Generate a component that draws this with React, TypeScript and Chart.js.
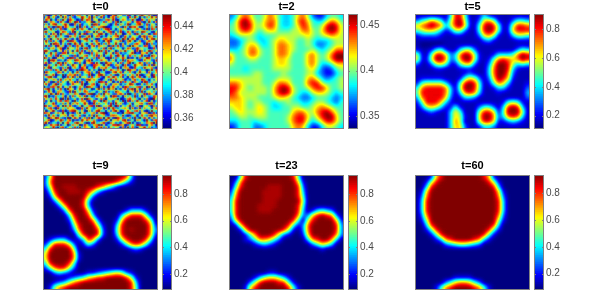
import React, { useEffect, useRef } from "react";
import { Chart, registerables } from "chart.js";

Chart.register(...registerables);

// Cell levels, top row first. 0 = bottom of the colour range, 9 = top.
// "." = level 0.5, "x" = level 8.6. Spaces are only for legibility.
const gridT0 = [
  "720158 394610 827735 061492 583017 946228 150379 648201",
  "159472 060837 214596 380725 914068 273551 829604 173958",
  "386041 729518 630294 871560 237849 105762 394018 527460",
  "904763 185207 498132 659047 382651 790436 615872 049318",
  "271589 436950 072814 360981 546203 817529 043796 281650",
  "648302 971864 350927 148356 790124 462083 978510 362749",
  "015927 382046 791685 403729 268915 037461 254863 190872",
  "793460 158732 906241 875093 614780 529138 607249 835106",
  "426185 093571 284069 132648 950372 846015 731952 460387",
  "850739 264108 573912 690487 031526 790284 165407 928613",
  "137064 825963 140758 926301 478695 213970 586032 714895",
  "592816 307419 862035 741582 306914 658027 940371 268540",
  "364098 715280 496173 058269 172853 940616 327854 091723",
  "708251 946037 128594 306817 645029 381742 096523 871460",
  "241673 580194 637208 915436 280791 564038 712965 340182",
  "895320 461726 059381 472650 938146 027593 461807 259736",
  "063947 218805 743962 108375 529460 871324 590216 683041",
  "516728 093462 180547 836291 704385 196052 837469 120975",
  "972401 657319 826094 253718 461092 735860 214073 598362",
  "340896 124075 398651 790423 856137 042918 675301 846219",
  "681253 970846 412730 568194 029673 518247 903586 172604",
  "107539 482613 965048 321876 405912 763081 249657 038195",
  "859064 317290 574186 043952 768341 290576 108432 965720",
  "423718 605941 230897 615240 193586 474029 856173 302948",
  "096342 871526 049315 782609 341027 958163 720495 618237",
  "714580 239067 681724 390158 962473 105826 374910 265083",
  "368921 540183 927056 418367 205849 637140 592683 047195",
  "205476 193758 340612 895741 036192 854703 168249 730526",
  "947103 826405 719283 064529 871650 319284 607531 982464",
  "581269 074312 865490 137802 549316 760425 983016 174830",
  "032784 951648 203751 986420 713058 426197 345782 609151",
  "679415 283096 514827 350169 284967 031582 790614 823507",
  "128503 764219 093648 724513 608132 975340 461829 056372",
  "453960 817325 476102 689037 195742 268619 037254 918640",
  "890217 346051 825739 041286 473509 814073 529160 742386",
  "264738 509192 361480 975314 820665 390127 846305 271094",
  "715042 683874 092576 214863 097341 652908 173942 680513",
  "036591 427160 758349 601927 536180 947213 605478 319826",
  "982367 150948 213605 478190 264793 081536 924710 563072",
  "147820 936375 640182 953246 718059 325674 081293 746158",
  "503694 218027 895361 072489 341627 960148 537826 102943",
  "876125 749403 127058 346715 890253 412067 893415 670281",
  "219483 065716 934820 517093 462178 753920 146058 328967",
  "640759 832190 586147 290368 705941 086235 719304 851624",
  "358016 497268 021395 864721 139506 674891 250763 094178",
  "791243 150684 379562 018934 682075 231468 904125 376809",
  "024867 913502 746018 523679 051348 897602 463981 215740",
  "465392 078146 281937 650482 927163 540719 382056 947132",
];
const gridT2 = [
  "236764 457643 346752 113443","358975 467743 347864 335764","458985 568743 346874 458985","457875 456644 455775 468985",
  "345554 344455 555565 456765","223454 334566 554454 333455","223566 434577 654454 223455","334577 544577 654445 434577",
  "644577 544577 644467 545799","744455 444566 544467 545799","544444 444566 544467 533466","444344 444555 544456 421245",
  "444445 544445 444455 321134","555555 544455 544467 532345","776555 544577 644478 854445","886545 554689 854457 886445",
  "875555 554689 854335 665434","776555 444566 543223 444323","666545 544344 544334 554324","566545 654334 455445 676544",
  "456555 654444 467755 789754","445545 554444 578864 689964","334443 444444 578853 468864","124442 234444 467631 135543",
];
const gridT5 = [
  ".......3884..131........","2457641 5895 1. 26751 .. 2443","6789873 5896 1. 48984 .1 5887","4566531 2552 .. 48984 .1 6888",
  "122221. .11. .. 26751 .. 3554","..............231....111",".00000..................","1.. 1341 .. 3552 ........ 243",
  "51. 4886 23 7985 1.. 1333 4798","611 5997 23 7995 1. 14787 6798","2.. 2564 11 4662 .. 26998 5343",".... 11 ... 111 ... 379983 1..",
  ".......... 121 .. 379972 ...",". 11111 ... 14652 . 269861 ...","14555531 . 48984 . 14763 ... 1","37888873 . 59984 .. 1331 ... 2",
  "48888873 . 37873 ... 1 ..... 3","27888862 . 1332 .......... 2","14888631 .......... 14541 .",".256531 141 ... 2442 . 38983 .",
  ".. 121 .. 364 ... 58861 49995 .","....... 3651 .. 69972 37873 .","....... 375. .. 58861 12321 .","....... 3662 .. 1332. ..... .",
];
const gridT9 = [
  "15 999999999999999 83 00000","17 9999999999999 863 1 00000","15 99 xxx 9999 87 531 00000000","038 99 xxx 9 8631 00000000000",
  "016 999999 62 0000000000000","0026 9999 83 00000000000000","00026 999 83 00000000000000","0000 27 999 61 000000 13331 00",
  "00000 38 99 83 00000 36888510","00000 16 999 72 000 16 9999 850","000000 48 999 51 00 38 99999 71","000000 27 999 82 00 48 9x999 72",
  "0000000 48 99 82 00 38 99999 71","0123310 13872 000 158 999 840","1488862 0 142 00000 14787410","38999950 0000000000 121 000",
  "59999971 0000000000000000","59999971 0000000000000000","38999840 0000000000000000","14788520 0000000000000000",
  "002321 000 11 2 3 4 5 6 5 2 1 00000","00000 1 2 3 4 6 7 8 8 9 9 9 9 8 5 1 0000","001235789 999999999 83 0000","01578 9999999999999 84 0000",
];
const gridT23 = [
  "0048 999999999 84 000000000","027 99999999999 61 00000000","048 99999 xxx 999 82 00000000","16 99999 xxxx 999 83 00000000",
  "27 99999 xxxx 999 84 00000000","38 99999 xxx 9999 95 00000000","38 9999 xxxx 9999 84 00000000","38 9999 xxx 99999 83 01343200",
  "28 999999999999 72 26898720","16 99999999999 840 58 9999 61","016 999999999 841 27 99999 82","0016 9999999 851 0 27 99999 82",
  "000147 999 8521 00 16 99999 72","000 12477642 00000 37899730","00000 12321 0000000 2465300","0000000000000000000 1 0000",
  "000000000000000000000000","000000000000000000000000","000000000000000000000000","000000000000000000000000",
  "00000000 11 00000000000000","00000 13566531 00000000000","0000 2589998841 0000000000","000 168 999999 841 000000000",
];
const gridT60 = [
  "0001689999 9999861000 0000","0015899999 9999985100 0000","0038999999 9999998300 0000","0169999999 9999999610 0000",
  "0279999999 9999999720 0000","0389999999 9999999830 0000","0389999999 9999999830 0000","0389999999 9999999830 0000",
  "0279999999 9999999720 0000","0159999999 9999999510 0000","0038999999 9999998300 0000","0014899999 9999984100 0000",
  "0001489999 9999841000 0000","0000137899 9987310000 0000","0000002345 5432000000 0000","000000000000000000000000",
  "000000000000000000000000","000000000000000000000000","000000000000000000000000","000000000000000000000000",
  "000000000000000000000000","0000000011 1100000000 0000","0000002467 7642000000 0000","0000147899 9987410000 0000",
];

const titles = ["t=0", "t=2", "t=5", "t=9", "t=23", "t=60"];
const grids = [gridT0, gridT2, gridT5, gridT9, gridT23, gridT60];
const colorRanges = [
  [0.3505, 0.4505],
  [0.336, 0.462],
  [0.106, 0.908],
  [0.079, 0.944],
  [0.078, 0.947],
  [0.077, 0.938],
];
const colorTicks = [
  [0.36, 0.38, 0.4, 0.42, 0.44],
  [0.35, 0.4, 0.45],
  [0.2, 0.4, 0.6, 0.8],
  [0.2, 0.4, 0.6, 0.8],
  [0.2, 0.4, 0.6, 0.8],
  [0.2, 0.4, 0.6, 0.8],
];
const panelLefts = [43, 229, 415];
const barLefts = [162, 348, 534];
const rowTops = [14, 175];
const titleGaps = [2, 3.5];
const valueBlurs = [0, 2.1, 2, 2, 2, 2];
const colourBlurs = [0.8, 0, 0, 0, 0, 0];
const colourBlurMix = 0.6;

const SIDE = 115;
const BAR_W = 10;
const GRAY = "#808080";

const clamp01 = (v: number) => Math.max(0, Math.min(1, v));
const jet = (f: number): [number, number, number] => [
  Math.round(255 * clamp01(1.5 - Math.abs(4 * f - 3))),
  Math.round(255 * clamp01(1.5 - Math.abs(4 * f - 2))),
  Math.round(255 * clamp01(1.5 - Math.abs(4 * f - 1))),
];
const levelOf = (ch: string) => (ch === "." ? 0.5 : ch === "x" ? 8.6 : Number(ch));

// Smooths the drawn field in value space, then applies the jet colour map, like an interpolated image.
const fieldPlugin = {
  id: "field",
  afterDatasetsDraw(chart: any, _args: any, opts: any) {
    const { ctx, chartArea: a } = chart;
    const l = Math.round(a.left);
    const t = Math.round(a.top);
    const w = Math.round(a.right - a.left);
    const h = Math.round(a.bottom - a.top);
    const off = document.createElement("canvas");
    off.width = w;
    off.height = h;
    const o = off.getContext("2d") as CanvasRenderingContext2D;
    if (opts.valueBlur > 0) o.filter = `blur(${opts.valueBlur}px)`;
    o.drawImage(ctx.canvas, l, t, w, h, 0, 0, w, h);
    const img = o.getImageData(0, 0, w, h);
    const d = img.data;
    for (let i = 0; i < d.length; i += 4) {
      const [r, g, b] = jet(d[i] / 255);
      d[i] = r;
      d[i + 1] = g;
      d[i + 2] = b;
      d[i + 3] = 255;
    }
    ctx.putImageData(img, l, t);
    if (opts.colourBlur > 0) {
      const o2 = document.createElement("canvas");
      o2.width = w;
      o2.height = h;
      const c2 = o2.getContext("2d") as CanvasRenderingContext2D;
      c2.putImageData(img, 0, 0);
      ctx.save();
      ctx.beginPath();
      ctx.rect(l, t, w, h);
      ctx.clip();
      ctx.globalAlpha = colourBlurMix;
      ctx.filter = `blur(${opts.colourBlur}px)`;
      ctx.drawImage(o2, l, t);
      ctx.restore();
    }
    ctx.save();
    ctx.strokeStyle = GRAY;
    ctx.lineWidth = 1;
    ctx.strokeRect(l + 0.5, t + 0.5, w - 1, h - 1);
    ctx.restore();
  },
};

const barFramePlugin = {
  id: "barFrame",
  afterDatasetsDraw(chart: any) {
    const { ctx, chartArea: a, scales } = chart;
    ctx.save();
    ctx.strokeStyle = GRAY;
    ctx.lineWidth = 1;
    ctx.strokeRect(a.left + 0.5, a.top + 0.5, a.right - a.left - 1, a.bottom - a.top - 1);
    ctx.beginPath();
    scales.y.ticks.forEach((tk: any) => {
      const y = Math.round(scales.y.getPixelForValue(tk.value)) + 0.5;
      ctx.moveTo(a.left, y);
      ctx.lineTo(a.left + 2, y);
      ctx.moveTo(a.right - 2, y);
      ctx.lineTo(a.right, y);
    });
    ctx.stroke();
    ctx.restore();
  },
};

function Panel({ index }: { index: number }) {
  const ref = useRef<HTMLCanvasElement>(null);
  const rowIdx = index < 3 ? 0 : 1;
  const areaTop = rowTops[rowIdx];
  const head = 16;
  useEffect(() => {
    const rows = grids[index].map((r) => r.replace(/ /g, ""));
    const n = rows.length;
    const [lo, hi] = colorRanges[index];
    const points: { x: number; y: number; value: number }[] = [];
    rows.forEach((row, j) => {
      for (let i = 0; i < row.length; i++) {
        points.push({ x: i + 0.5, y: n - j - 0.5, value: lo + (levelOf(row[i]) / 9) * (hi - lo) });
      }
    });
    const colors = points.map((p) => {
      const g = Math.round((255 * (p.value - lo)) / (hi - lo));
      return `rgb(${g},${g},${g})`;
    });
    const bp = titleGaps[rowIdx];
    const chart = new Chart(ref.current as HTMLCanvasElement, {
      type: "scatter",
      data: {
        datasets: [
          {
            data: points,
            showLine: false,
            pointStyle: "rect",
            pointRadius: (SIDE / n) * Math.SQRT1_2 + 0.35,
            pointBorderWidth: 0,
            pointBackgroundColor: colors,
          } as any,
        ],
      },
      options: {
        responsive: false,
        animation: false,
        layout: { padding: 0, autoPadding: false },
        events: [],
        scales: {
          x: { type: "linear", min: 0, max: n, display: false },
          y: { type: "linear", min: 0, max: n, display: false },
        },
        plugins: {
          legend: { display: false },
          tooltip: { enabled: false },
          title: {
            display: true,
            text: titles[index],
            color: "#000",
            font: { family: "'Liberation Sans'", size: 11, weight: "bold", lineHeight: 1 },
            padding: { top: head - 11 - bp, bottom: bp },
          },
          field: { valueBlur: valueBlurs[index], colourBlur: colourBlurs[index] },
        } as any,
      },
      plugins: [fieldPlugin],
    });
    return () => chart.destroy();
  }, []);
  return (
    <canvas
      ref={ref}
      width={SIDE}
      height={SIDE + head}
      style={{ position: "absolute", display: "block", left: panelLefts[index % 3], top: areaTop - head }}
    />
  );
}

function ColorBar({ index }: { index: number }) {
  const ref = useRef<HTMLCanvasElement>(null);
  const rowIdx = index < 3 ? 0 : 1;
  const pad = 8;
  useEffect(() => {
    const [lo, hi] = colorRanges[index];
    const steps = Array.from({ length: 64 }, (_, k) => k);
    const span = (hi - lo) / 64;
    const chart = new Chart(ref.current as HTMLCanvasElement, {
      type: "bar",
      data: {
        labels: ["c"],
        datasets: steps.map((k) => {
          const [r, g, b] = jet((k + 0.5) / 64);
          return {
            data: [[lo + k * span, Math.min(hi, lo + (k + 1.3) * span)]],
            backgroundColor: `rgb(${r},${g},${b})`,
            borderWidth: 0,
            barPercentage: 1,
            categoryPercentage: 1,
            grouped: false,
          } as any;
        }),
      },
      options: {
        responsive: false,
        animation: false,
        layout: { padding: { top: pad, bottom: pad, left: 0, right: 0 } },
        events: [],
        scales: {
          x: { display: false },
          y: {
            position: "right",
            min: lo,
            max: hi,
            grid: { display: false, drawTicks: false },
            border: { display: false },
            afterBuildTicks: (scale: any) => {
              scale.ticks = colorTicks[index].map((value) => ({ value }));
            },
            afterFit: (scale: any) => {
              scale.width = 30;
            },
            ticks: {
              autoSkip: false,
              padding: 2,
              color: "#4a4a4a",
              font: { family: "'Liberation Sans'", size: 10 },
              callback: (v: any) => String(v),
            },
          },
        },
        plugins: { legend: { display: false }, tooltip: { enabled: false } },
      },
      plugins: [barFramePlugin],
    });
    return () => chart.destroy();
  }, []);
  return (
    <canvas
      ref={ref}
      width={BAR_W + 30}
      height={SIDE + pad * 2}
      style={{ position: "absolute", display: "block", left: barLefts[index % 3], top: rowTops[rowIdx] - pad }}
    />
  );
}

export default function App() {
  return (
    <div style={{ position: "fixed", left: 0, top: 0, width: 598, height: 301, overflow: "hidden", background: "#fff" }}>
      {titles.map((_, i) => (
        <React.Fragment key={i}>
          <Panel index={i} />
          <ColorBar index={i} />
        </React.Fragment>
      ))}
    </div>
  );
}
